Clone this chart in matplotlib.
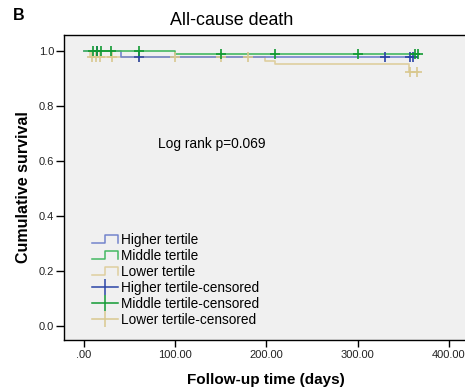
import numpy as np
import matplotlib
matplotlib.use("Agg")
import matplotlib.pyplot as plt
from matplotlib.lines import Line2D
from matplotlib.legend_handler import HandlerBase

plt.rcParams['font.family'] = ['Liberation Sans', 'DejaVu Sans']

# ------- Kaplan-Meier step data ------- #
groups = ["Higher tertile", "Middle tertile", "Lower tertile"]

higherTimes = [0, 40, 365]
higherSurv = [1.0, 0.977, 0.977]
higherCensored = [14, 60, 330, 358, 361]

middleTimes = [0, 100, 367]
middleSurv = [1.0, 0.989, 0.989]
middleCensored = [10, 14, 19, 30, 60, 150, 210, 300, 363, 366]

lowerTimes = [0, 6, 199, 210, 357, 366]
lowerSurv = [1.0, 0.977, 0.965, 0.953, 0.925, 0.925]
lowerCensored = [9, 13, 18, 31, 60, 100, 150, 180, 358, 365]

xTicks = [0, 100, 200, 300, 400]
xTickLabels = [".00", "100.00", "200.00", "300.00", "400.00"]
yTicks = [0.0, 0.2, 0.4, 0.6, 0.8, 1.0]

lineColors = ["#7384cc", "#45b862", "#dfcf9f"]
markColors = ["#2a44a6", "#119a33", "#d9c88f"]


def survivalAt(times, surv, t):
    idx = np.searchsorted(times, t, side="right") - 1
    return np.asarray(surv)[idx]


class StepHandler(HandlerBase):
    def create_artists(self, legend, orig_handle, xdescent, ydescent,
                       width, height, fontsize, trans):
        x0 = -xdescent
        y0 = -ydescent
        xs = [x0, x0 + 0.5 * width, x0 + 0.5 * width, x0 + width, x0 + width]
        ys = [y0 + 0.15 * height, y0 + 0.15 * height, y0 + 0.95 * height,
              y0 + 0.95 * height, y0 + 0.15 * height]
        line = Line2D(xs, ys, color=orig_handle.get_color(), lw=1.1,
                      transform=trans)
        return [line]


fig = plt.figure(figsize=(4.65, 3.91), dpi=100)
ax = fig.add_axes([64 / 465, 51 / 391, 402 / 465, 305 / 391])
ax.set_facecolor("#f0f0f0")

allTimes = [higherTimes, middleTimes, lowerTimes]
allSurv = [higherSurv, middleSurv, lowerSurv]
allCensored = [higherCensored, middleCensored, lowerCensored]

# draw lower first so higher/middle sit on top
for i in [2, 0, 1]:
    ax.step(allTimes[i], allSurv[i], where="post", color=lineColors[i], lw=1.2, zorder=2)
for i in [2, 0, 1]:
    cy = survivalAt(allTimes[i], allSurv[i], allCensored[i])
    ax.plot(allCensored[i], cy, linestyle="none", marker="+", markersize=7,
            markeredgewidth=1.2, color=markColors[i], zorder=3)

ax.set_xlim(-22, 419)
ax.set_ylim(-0.049, 1.058)
ax.set_xticks(xTicks)
ax.set_xticklabels(xTickLabels)
ax.set_yticks(yTicks)
ax.set_yticklabels(["%.1f" % v for v in yTicks])
ax.tick_params(axis="x", length=5, width=1, pad=2, labelsize=8, labelcolor="#222222")
ax.tick_params(axis="y", length=6, width=1, pad=1, labelsize=8, labelcolor="#222222")
ax.spines["right"].set_visible(False)
for side in ["left", "bottom", "top"]:
    ax.spines[side].set_linewidth(1.0)

ax.text(81, 0.662, "Log rank p=0.069", fontsize=9.9, va="center", ha="left")

# legend
handles = []
labels = []
for i in range(3):
    handles.append(Line2D([], [], color=lineColors[i]))
    labels.append(groups[i])
for i in range(3):
    handles.append(Line2D([], [], color=markColors[i], lw=1.1, marker="|",
                          markersize=11, markeredgewidth=1.1))
    labels.append(groups[i] + "-censored")
leg = ax.legend(handles, labels, loc="lower left", bbox_to_anchor=(0.047, 0.012),
                frameon=False, fontsize=9.8, handlelength=1.9, handletextpad=0.2,
                labelspacing=0.14, borderpad=0.2, numpoints=1,
                handler_map={h: StepHandler() for h in handles[:3]})

fig.text(232 / 465, 1 - 20.7 / 391, "All-cause death", fontsize=12.9,
         ha="center", va="center")
fig.text(13 / 465, 1 - 15 / 391, "B", fontsize=11.5, fontweight="bold",
         ha="left", va="center")
fig.text(23 / 465, 1 - 187.5 / 391, "Cumulative survival", fontsize=11.5,
         fontweight="bold", rotation=90, ha="center", va="center")
fig.text(266 / 465, 1 - 380 / 391, "Follow-up time (days)", fontsize=11,
         fontweight="bold", ha="center", va="center")

fig.savefig("out.png", dpi=100)
